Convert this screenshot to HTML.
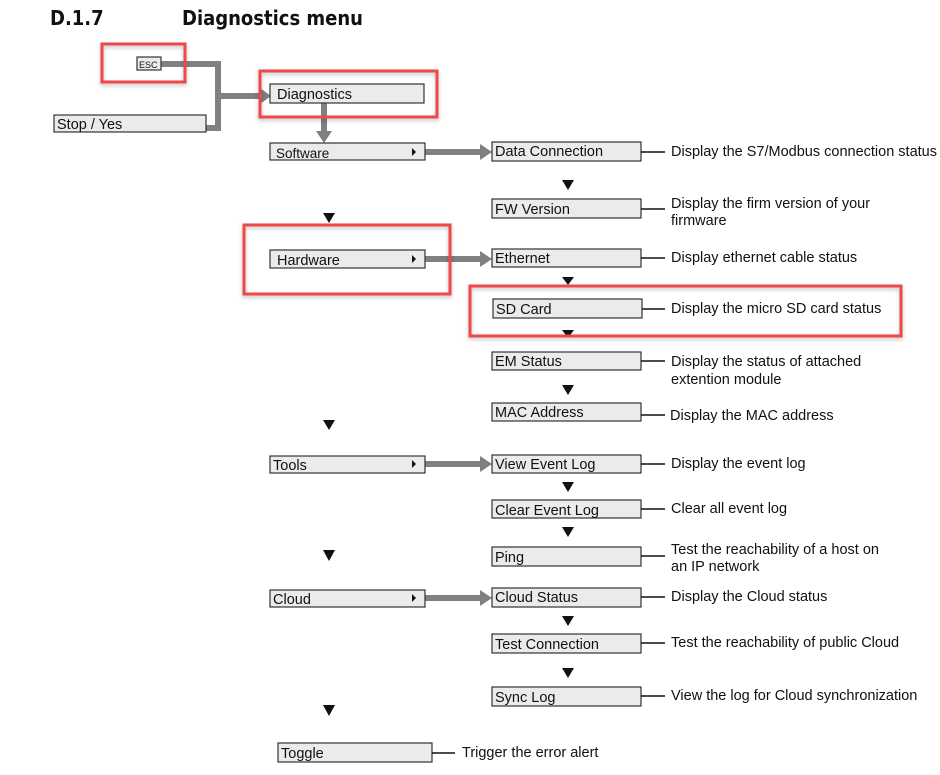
<!DOCTYPE html>
<html><head><meta charset="utf-8"><style>
html,body{margin:0;padding:0;background:#fff;}
svg{display:block;}
text{font-family:"Liberation Sans",Arial,sans-serif;fill:#111;}
</style></head><body>
<svg width="940" height="775" viewBox="0 0 940 775" xmlns="http://www.w3.org/2000/svg">
<defs>
<filter id="sh" x="-10%" y="-10%" width="120%" height="130%"><feDropShadow dx="0" dy="2" stdDeviation="2" flood-color="#000" flood-opacity="0.25"/></filter>
</defs>
<text x="50" y="25" font-size="20" font-weight="bold" style="font-family:'DejaVu Sans Condensed','Liberation Sans',sans-serif">D.1.7</text>
<text x="182" y="25" font-size="20" font-weight="bold" style="font-family:'DejaVu Sans Condensed','Liberation Sans',sans-serif">Diagnostics menu</text>

<g stroke="#808080" stroke-width="6" fill="none">
<polyline points="161,64 218,64 218,128 206,128"/>
<line x1="218" y1="96" x2="262" y2="96"/>
<line x1="324" y1="103" x2="324" y2="133"/>
<line x1="425" y1="152" x2="482" y2="152"/>
<line x1="425" y1="259" x2="482" y2="259"/>
<line x1="425" y1="464" x2="482" y2="464"/>
<line x1="425" y1="598" x2="482" y2="598"/>
</g>
<g fill="#808080">
<polygon points="260,88 271,96 260,104"/>
<polygon points="316,131 332,131 324,143"/>
<polygon points="480,144 492,152 480,160"/>
<polygon points="480,251 492,259 480,267"/>
<polygon points="480,456 492,464 480,472"/>
<polygon points="480,590 492,598 480,606"/>
</g>

<g fill="#ebebeb" stroke="#333" stroke-width="1.2">
<rect x="137" y="57" width="24" height="13"/>
<rect x="54" y="115" width="152" height="17"/>
<rect x="270" y="84" width="154" height="19"/>
<rect x="270" y="143" width="155" height="17"/>
<rect x="492" y="142" width="149" height="19"/>
<rect x="492" y="199" width="149" height="19"/>
<rect x="270" y="250" width="155" height="18"/>
<rect x="492" y="249" width="149" height="18"/>
<rect x="493" y="299" width="149" height="19"/>
<rect x="492" y="352" width="149" height="18"/>
<rect x="492" y="403" width="149" height="18"/>
<rect x="270" y="456" width="155" height="17"/>
<rect x="492" y="455" width="149" height="18"/>
<rect x="492" y="500" width="149" height="18"/>
<rect x="492" y="547" width="149" height="19"/>
<rect x="270" y="590" width="155" height="17"/>
<rect x="492" y="588" width="149" height="19"/>
<rect x="492" y="634" width="149" height="19"/>
<rect x="492" y="687" width="149" height="19"/>
<rect x="278" y="743" width="154" height="19"/>
</g>

<g fill="#111">
<polygon points="412,148 416,152 412,156"/>
<polygon points="412,255 416,259 412,263"/>
<polygon points="412,460 416,464 412,468"/>
<polygon points="412,594 416,598 412,602"/>
</g>

<g fill="#111">
<polygon points="562,180 574,180 568,190"/>
<polygon points="323,213 335,213 329,223"/>
<polygon points="562,277 574,277 568,285"/>
<polygon points="562,330 574,330 568,338"/>
<polygon points="562,385 574,385 568,395"/>
<polygon points="323,420 335,420 329,430"/>
<polygon points="562,482 574,482 568,492"/>
<polygon points="562,527 574,527 568,537"/>
<polygon points="323,550 335,550 329,561"/>
<polygon points="562,616 574,616 568,626"/>
<polygon points="562,668 574,668 568,678"/>
<polygon points="323,705 335,705 329,716"/>
</g>

<g stroke="#111" stroke-width="1.5">
<line x1="641" y1="152" x2="665" y2="152"/>
<line x1="641" y1="209" x2="665" y2="209"/>
<line x1="641" y1="258" x2="665" y2="258"/>
<line x1="642" y1="309" x2="665" y2="309"/>
<line x1="641" y1="361" x2="665" y2="361"/>
<line x1="641" y1="415" x2="665" y2="415"/>
<line x1="641" y1="464" x2="665" y2="464"/>
<line x1="641" y1="509" x2="665" y2="509"/>
<line x1="641" y1="556" x2="665" y2="556"/>
<line x1="641" y1="597" x2="665" y2="597"/>
<line x1="641" y1="643" x2="665" y2="643"/>
<line x1="641" y1="696" x2="665" y2="696"/>
<line x1="432" y1="753" x2="455" y2="753"/>
</g>

<g font-size="14.5">
<text x="139" y="68" font-size="9">ESC</text>
<text x="57" y="129">Stop / Yes</text>
<text x="277" y="99">Diagnostics</text>
<text x="276" y="158" font-size="13.5">Software</text>
<text x="495" y="156">Data Connection</text>
<text x="495" y="214">FW Version</text>
<text x="277" y="265">Hardware</text>
<text x="495" y="263">Ethernet</text>
<text x="496" y="314">SD Card</text>
<text x="495" y="366">EM Status</text>
<text x="495" y="417">MAC Address</text>
<text x="273" y="470">Tools</text>
<text x="495" y="469">View Event Log</text>
<text x="495" y="515">Clear Event Log</text>
<text x="495" y="562">Ping</text>
<text x="273" y="604">Cloud</text>
<text x="495" y="602">Cloud Status</text>
<text x="495" y="649">Test Connection</text>
<text x="495" y="702">Sync Log</text>
<text x="281" y="758">Toggle</text>
</g>

<g font-size="14.5">
<text x="671" y="156">Display the S7/Modbus connection status</text>
<text x="671" y="208">Display the firm version of your</text>
<text x="671" y="225">firmware</text>
<text x="671" y="262">Display ethernet cable status</text>
<text x="671" y="313">Display the micro SD card status</text>
<text x="671" y="366">Display the status of attached</text>
<text x="671" y="384">extention module</text>
<text x="670" y="420">Display the MAC address</text>
<text x="671" y="468">Display the event log</text>
<text x="671" y="513">Clear all event log</text>
<text x="671" y="554">Test the reachability of a host on</text>
<text x="671" y="571">an IP network</text>
<text x="671" y="601">Display the Cloud status</text>
<text x="671" y="647">Test the reachability of public Cloud</text>
<text x="671" y="700">View the log for Cloud synchronization</text>
<text x="462" y="757">Trigger the error alert</text>
</g>

<g fill="none" stroke="#f0474a" stroke-width="3" filter="url(#sh)">
<rect x="102" y="44" width="83" height="38"/>
<rect x="260" y="71" width="177" height="46"/>
<rect x="244" y="225" width="206" height="69"/>
<rect x="470" y="286" width="431" height="50"/>
</g>
</svg>
</body></html>
